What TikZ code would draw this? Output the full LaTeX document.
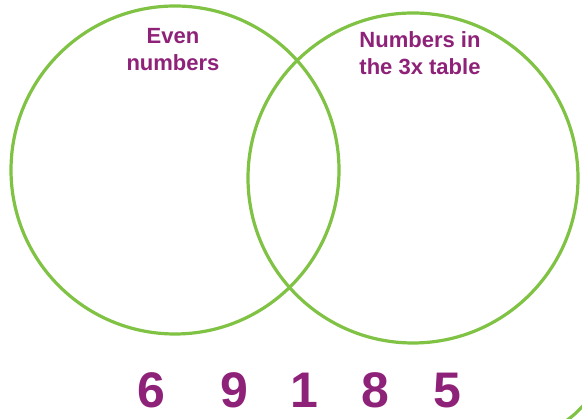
\documentclass[tikz,border=0pt]{standalone}
\usepackage{fontspec}
\setmainfont{Liberation Sans}
\usetikzlibrary{positioning}
\definecolor{venngreen}{HTML}{80C244}
\definecolor{vennpurple}{HTML}{8E2178}

\begin{document}
\begin{tikzpicture}[
        x=1pt, y=1pt,
        vset/.style={circle, draw=venngreen, line width=3.2pt,
                     minimum size=328pt, inner sep=0pt},
        lbl/.style={text=vennpurple, align=center,
                    font=\fontsize{22}{27}\selectfont\bfseries},
        num/.style={text=vennpurple, anchor=base, inner sep=0pt,
                    font=\fontsize{50}{56}\selectfont\bfseries}
    ]
        \useasboundingbox (0,0) rectangle (582,419);
        % the two sets
        \node[vset] (even) at (175,249) {};
        \node[vset, minimum size=330pt] (three) at (413,241) {};
        \node[lbl] (evenlbl) at (173,369) {Even\\numbers};
        \node[lbl] (threelbl) at (420,366) {Numbers in\\the 3x table};
        % numbers to sort
        \foreach \n/\xx in {6/151, 9/234, 1/304, 8/375, 5/447}
            \node[num] (n\n) at (\xx,11) {\n};
        % corner fragment
        \begin{scope}
            \clip (0,0) rectangle (582,419);
            \draw[venngreen, line width=3.2pt] (566,-2) .. controls (574,4) .. (586,16);
        \end{scope}
    \end{tikzpicture}
\end{document}
